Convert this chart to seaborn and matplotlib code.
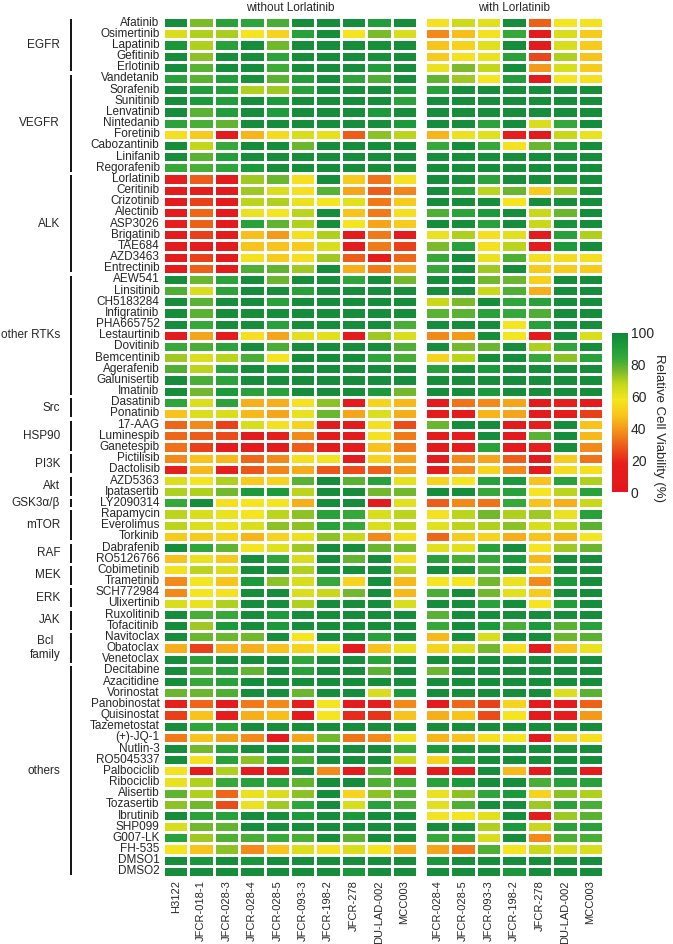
import numpy as np
import pandas as pd
import seaborn as sns
import matplotlib.pyplot as plt
from matplotlib.colors import LinearSegmentedColormap
from matplotlib.transforms import blended_transform_factory

sns.set_theme(style="white")
plt.rcParams['font.family'] = ['Liberation Sans', 'DejaVu Sans']

# | data |---------------------------------------------------------------------
groups = ["EGFR", "VEGFR", "ALK", "other RTKs", "Src", "HSP90", "PI3K", "Akt",
          "GSK3α/β", "mTOR", "RAF", "MEK", "ERK", "JAK", "Bcl\nfamily", "others"]
group_sizes = [5, 9, 9, 11, 2, 3, 2, 2, 1, 3, 2, 2, 2, 2, 3, 19]

drugs = ["Afatinib", "Osimertinib", "Lapatinib", "Gefitinib", "Erlotinib",
         "Vandetanib", "Sorafenib", "Sunitinib", "Lenvatinib", "Nintedanib",
         "Foretinib", "Cabozantinib", "Linifanib", "Regorafenib",
         "Lorlatinib", "Ceritinib", "Crizotinib", "Alectinib", "ASP3026",
         "Brigatinib", "TAE684", "AZD3463", "Entrectinib",
         "AEW541", "Linsitinib", "CH5183284", "Infigratinib", "PHA665752",
         "Lestaurtinib", "Dovitinib", "Bemcentinib", "Agerafenib",
         "Galunisertib", "Imatinib",
         "Dasatinib", "Ponatinib", "17-AAG", "Luminespib", "Ganetespib",
         "Pictilisib", "Dactolisib", "AZD5363", "Ipatasertib", "LY2090314",
         "Rapamycin", "Everolimus", "Torkinib", "Dabrafenib", "RO5126766",
         "Cobimetinib", "Trametinib", "SCH772984", "Ulixertinib",
         "Ruxolitinib", "Tofacitinib", "Navitoclax", "Obatoclax", "Venetoclax",
         "Decitabine", "Azacitidine", "Vorinostat", "Panobinostat",
         "Quisinostat", "Tazemetostat", "(+)-JQ-1", "Nutlin-3", "RO5045337",
         "Palbociclib", "Ribociclib", "Alisertib", "Tozasertib", "Ibrutinib",
         "SHP099", "G007-LK", "FH-535", "DMSO1", "DMSO2"]

cells_without = ["H3122", "JFCR-018-1", "JFCR-028-3", "JFCR-028-4", "JFCR-028-5",
                 "JFCR-093-3", "JFCR-198-2", "JFCR-278", "DU-LAD-002", "MCC003"]
cells_with = ["JFCR-028-4", "JFCR-028-5", "JFCR-093-3", "JFCR-198-2", "JFCR-278",
              "DU-LAD-002", "MCC003"]

viab_without = [
    [97, 76, 88, 86, 82, 97, 97, 97, 90, 97],
    [64, 70, 71, 58, 53, 88, 97, 58, 76, 64],
    [93, 70, 88, 97, 77, 97, 97, 97, 96, 97],
    [97, 74, 97, 97, 87, 97, 97, 97, 96, 97],
    [97, 80, 97, 97, 83, 97, 97, 97, 90, 97],
    [88, 80, 90, 95, 80, 90, 97, 87, 81, 97],
    [97, 90, 90, 70, 72, 88, 97, 97, 97, 93],
    [97, 92, 90, 97, 92, 97, 97, 97, 97, 87],
    [97, 80, 90, 97, 91, 97, 97, 97, 92, 97],
    [87, 82, 79, 97, 97, 97, 97, 97, 97, 92],
    [56, 50, 10, 45, 55, 64, 61, 29, 74, 69],
    [97, 68, 84, 97, 97, 78, 97, 97, 97, 97],
    [97, 80, 90, 97, 97, 97, 97, 97, 97, 97],
    [84, 82, 86, 92, 97, 97, 97, 97, 97, 97],
    [14, 29, 10, 72, 78, 56, 97, 50, 33, 57],
    [12, 14, 10, 72, 63, 56, 80, 42, 29, 36],
    [10, 24, 10, 69, 70, 60, 58, 62, 34, 50],
    [10, 31, 10, 60, 58, 69, 97, 48, 34, 56],
    [14, 30, 10, 88, 79, 70, 97, 58, 42, 50],
    [10, 24, 10, 47, 40, 56, 70, 10, 34, 10],
    [10, 12, 10, 48, 48, 50, 64, 10, 34, 24],
    [10, 24, 10, 57, 50, 56, 72, 29, 12, 31],
    [10, 30, 10, 81, 79, 72, 97, 44, 34, 42],
    [97, 78, 87, 97, 78, 97, 97, 86, 97, 77],
    [81, 64, 87, 97, 97, 88, 97, 97, 97, 97],
    [97, 80, 97, 97, 88, 97, 97, 97, 97, 97],
    [97, 80, 97, 97, 97, 97, 97, 97, 97, 97],
    [97, 84, 97, 97, 88, 97, 97, 97, 97, 82],
    [10, 42, 10, 56, 42, 62, 62, 10, 72, 64],
    [84, 82, 87, 97, 82, 97, 97, 97, 97, 81],
    [72, 63, 69, 82, 58, 97, 97, 97, 86, 82],
    [81, 69, 87, 97, 92, 97, 97, 97, 97, 97],
    [97, 82, 87, 97, 97, 97, 97, 97, 97, 97],
    [97, 77, 92, 88, 88, 97, 97, 97, 92, 77],
    [86, 63, 87, 44, 44, 57, 74, 10, 53, 46],
    [48, 63, 64, 46, 42, 60, 78, 42, 63, 44],
    [31, 37, 24, 64, 57, 53, 10, 10, 56, 26],
    [31, 29, 26, 10, 18, 37, 10, 10, 57, 34],
    [33, 24, 10, 10, 10, 29, 10, 10, 48, 34],
    [37, 48, 46, 31, 37, 56, 57, 10, 53, 42],
    [18, 46, 18, 28, 36, 43, 28, 26, 30, 40],
    [63, 58, 70, 50, 53, 80, 97, 80, 88, 61],
    [70, 70, 77, 92, 92, 69, 97, 97, 77, 77],
    [84, 97, 56, 58, 58, 44, 97, 97, 10, 62],
    [69, 64, 60, 58, 69, 74, 88, 84, 64, 69],
    [69, 63, 60, 63, 74, 74, 88, 84, 63, 69],
    [50, 50, 53, 45, 53, 60, 74, 67, 37, 56],
    [97, 86, 79, 58, 62, 72, 97, 97, 78, 77],
    [48, 60, 50, 97, 86, 64, 97, 79, 97, 56],
    [57, 69, 63, 97, 97, 70, 97, 97, 97, 70],
    [37, 58, 48, 92, 74, 64, 84, 53, 97, 46],
    [37, 58, 57, 97, 97, 63, 67, 77, 97, 46],
    [64, 60, 70, 97, 97, 70, 97, 97, 97, 64],
    [97, 82, 84, 97, 92, 97, 97, 97, 97, 97],
    [97, 72, 92, 97, 92, 97, 97, 97, 97, 97],
    [97, 78, 78, 77, 97, 58, 97, 97, 88, 97],
    [44, 24, 44, 44, 48, 53, 58, 10, 48, 60],
    [97, 88, 97, 97, 97, 86, 97, 97, 88, 97],
    [97, 82, 88, 79, 97, 88, 97, 97, 80, 97],
    [97, 84, 88, 97, 97, 97, 97, 97, 97, 97],
    [78, 78, 81, 97, 97, 78, 97, 97, 64, 92],
    [18, 31, 10, 34, 37, 18, 58, 10, 14, 37],
    [24, 48, 14, 44, 47, 10, 58, 20, 22, 48],
    [97, 86, 88, 97, 97, 97, 97, 97, 97, 97],
    [34, 48, 42, 37, 10, 42, 77, 33, 37, 57],
    [97, 77, 88, 97, 97, 92, 97, 97, 97, 86],
    [97, 57, 88, 74, 92, 81, 97, 97, 97, 67],
    [57, 10, 70, 10, 10, 97, 37, 10, 81, 10],
    [60, 70, 84, 88, 88, 79, 97, 97, 81, 82],
    [79, 70, 31, 60, 63, 74, 97, 53, 74, 80],
    [74, 77, 26, 60, 72, 86, 97, 64, 88, 82],
    [97, 88, 88, 97, 97, 92, 97, 92, 97, 97],
    [64, 77, 79, 97, 97, 97, 97, 97, 97, 97],
    [88, 72, 81, 82, 84, 82, 97, 80, 97, 97],
    [58, 48, 74, 37, 48, 63, 57, 64, 58, 44],
    [97, 93, 97, 93, 97, 97, 97, 97, 97, 97],
    [97, 97, 97, 97, 97, 97, 97, 93, 97, 97],
]

viab_with = [
    [57, 66, 62, 97, 30, 58, 57],
    [37, 47, 57, 84, 10, 64, 50],
    [48, 52, 62, 97, 10, 64, 50],
    [50, 57, 60, 88, 25, 70, 48],
    [60, 76, 68, 97, 40, 64, 50],
    [79, 72, 58, 90, 10, 58, 56],
    [88, 97, 97, 97, 97, 97, 97],
    [97, 97, 97, 97, 97, 97, 97],
    [97, 97, 97, 97, 97, 97, 97],
    [97, 97, 87, 97, 64, 84, 97],
    [45, 60, 62, 14, 10, 67, 60],
    [84, 97, 84, 57, 78, 88, 97],
    [97, 97, 97, 97, 97, 97, 97],
    [97, 97, 97, 97, 97, 97, 97],
    [97, 97, 87, 97, 97, 97, 97],
    [97, 88, 69, 78, 50, 72, 97],
    [97, 97, 97, 58, 97, 97, 97],
    [81, 87, 92, 97, 67, 78, 97],
    [97, 97, 88, 97, 67, 95, 97],
    [60, 70, 56, 62, 10, 88, 70],
    [76, 88, 56, 69, 10, 92, 97],
    [84, 97, 60, 81, 56, 55, 56],
    [84, 97, 72, 97, 50, 50, 50],
    [97, 97, 77, 78, 52, 97, 97],
    [97, 97, 67, 81, 44, 97, 97],
    [67, 76, 97, 86, 88, 97, 97],
    [80, 80, 88, 84, 81, 97, 97],
    [97, 97, 97, 58, 88, 97, 97],
    [37, 40, 97, 58, 10, 97, 64],
    [97, 77, 78, 97, 70, 86, 97],
    [53, 69, 97, 97, 84, 74, 88],
    [88, 97, 92, 97, 97, 97, 97],
    [97, 97, 97, 97, 97, 97, 97],
    [97, 97, 92, 97, 97, 97, 97],
    [10, 33, 37, 42, 10, 18, 10],
    [10, 10, 45, 42, 10, 12, 24],
    [78, 97, 97, 10, 14, 97, 48],
    [10, 14, 97, 10, 80, 97, 46],
    [10, 10, 88, 10, 18, 97, 37],
    [10, 37, 42, 29, 10, 50, 33],
    [10, 37, 53, 37, 10, 55, 56],
    [53, 58, 88, 92, 48, 88, 70],
    [97, 97, 84, 88, 58, 69, 88],
    [29, 37, 33, 84, 48, 44, 67],
    [57, 69, 77, 70, 72, 60, 88],
    [62, 69, 70, 74, 64, 69, 80],
    [31, 50, 53, 44, 48, 45, 58],
    [62, 62, 88, 97, 58, 72, 78],
    [88, 82, 84, 92, 46, 97, 97],
    [97, 97, 82, 97, 56, 97, 97],
    [58, 58, 77, 60, 37, 92, 97],
    [82, 97, 77, 62, 50, 97, 97],
    [97, 97, 88, 97, 58, 90, 97],
    [80, 97, 97, 97, 97, 97, 97],
    [84, 97, 92, 82, 92, 80, 88],
    [46, 97, 64, 97, 97, 78, 80],
    [53, 63, 77, 56, 10, 48, 60],
    [97, 97, 97, 97, 97, 97, 97],
    [78, 97, 97, 97, 97, 97, 97],
    [97, 97, 97, 97, 97, 97, 97],
    [97, 97, 97, 97, 97, 63, 80],
    [10, 31, 24, 53, 10, 10, 30],
    [44, 48, 26, 58, 10, 14, 40],
    [97, 97, 97, 97, 97, 97, 97],
    [45, 48, 57, 58, 10, 53, 56],
    [92, 97, 97, 97, 97, 97, 97],
    [53, 88, 97, 97, 97, 97, 97],
    [10, 10, 97, 46, 10, 97, 10],
    [88, 92, 97, 97, 82, 88, 88],
    [60, 74, 86, 92, 53, 74, 70],
    [62, 81, 97, 97, 72, 88, 82],
    [57, 58, 62, 97, 10, 72, 80],
    [97, 97, 70, 92, 67, 88, 88],
    [84, 88, 64, 97, 37, 82, 82],
    [42, 34, 81, 58, 67, 63, 64],
    [93, 97, 97, 97, 97, 97, 97],
    [97, 97, 97, 93, 97, 97, 97],
]

df_without = pd.DataFrame(viab_without, index=drugs, columns=cells_without)
df_with = pd.DataFrame(viab_with, index=drugs, columns=cells_with)

# | colours |------------------------------------------------------------------
cmap = LinearSegmentedColormap.from_list("viab", [
    (0.00, "#E3161B"), (0.18, "#E51F1C"), (0.28, "#EC5618"), (0.38, "#F39018"),
    (0.48, "#F8C41B"), (0.58, "#F4E51F"), (0.68, "#C4D81A"), (0.76, "#7CBB2A"),
    (0.84, "#36A939"), (0.92, "#1B9A3B"), (1.00, "#138639")])

# | layout (pixel boxes on a 673x944 canvas) |---------------------------------
W, H = 673, 944


def box(x0, y0, x1, y1):
    return [x0 / W, 1 - y1 / H, (x1 - x0) / W, (y1 - y0) / H]


fig = plt.figure(figsize=(6.73, 9.44), dpi=100)
ax1 = fig.add_axes(box(163, 17, 417, 877))
ax2 = fig.add_axes(box(425, 17, 603, 877))
cax = fig.add_axes(box(612, 333, 628, 492))

hm_kw = dict(cmap=cmap, vmin=0, vmax=100, linewidths=0.75, linecolor="white",
             xticklabels=True)
sns.heatmap(df_without, ax=ax1, cbar=False, yticklabels=True, **hm_kw)
sns.heatmap(df_with, ax=ax2, cbar_ax=cax, yticklabels=False,
            cbar_kws={"ticks": [0, 20, 40, 60, 80, 100]}, **hm_kw)

for ax, title in [(ax1, "without Lorlatinib"), (ax2, "with Lorlatinib")]:
    ax.set_title(title, fontsize=8.5, pad=4)
    ax.tick_params(axis="both", length=0, pad=2.5)
    plt.setp(ax.get_xticklabels(), rotation=90, fontsize=8, ha="center", va="top")
    ax.set_xlabel("")
    ax.set_ylabel("")
plt.setp(ax1.get_yticklabels(), rotation=0, fontsize=8.5)

# group brackets and labels
trans = blended_transform_factory(ax1.transAxes, ax1.transData)
start = 0
for name, n in zip(groups, group_sizes):
    ax1.plot([-0.362, -0.362], [start + 0.15, start + n - 0.15], transform=trans,
             color="black", lw=1.3, clip_on=False, solid_capstyle="butt")
    ax1.text(-0.405, start + n / 2, name, transform=trans, ha="right",
             va="center", fontsize=8.5, multialignment="center")
    start += n

# colour bar
cb = ax2.collections[0].colorbar
cb.outline.set_visible(False)
cax.tick_params(direction="in", length=4, width=1, color="white",
                left=True, right=True, labelleft=False, labelright=True,
                labelsize=10, pad=2)
cb.set_label("Relative Cell Viability (%)", rotation=270, fontsize=9.5)
cax.yaxis.set_label_coords(3.3, 0.4)

fig.savefig("out.png", dpi=100)
